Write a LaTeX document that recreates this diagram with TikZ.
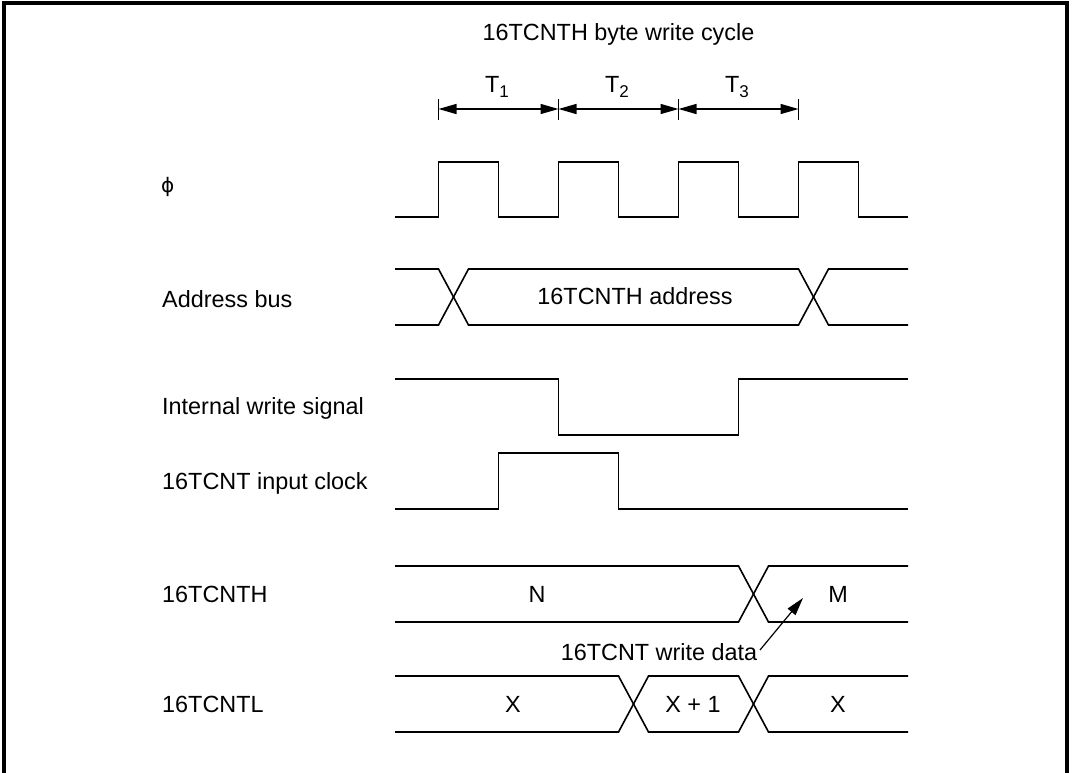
\documentclass[tikz,border=0pt]{standalone}
\usepackage{fontspec}
\setmainfont{Liberation Sans}
\newfontfamily\dejavu{DejaVu Sans}
\usetikzlibrary{arrows.meta}
\begin{document}
\begin{tikzpicture}[x=1pt,y=-1pt,
  sig/.style={line width=1.6pt, line join=miter},
  lbl/.style={anchor=base west, inner sep=0pt, font=\fontsize{23.4}{28}\selectfont},
  txt/.style={anchor=base, inner sep=0pt, font=\fontsize{23.4}{28}\selectfont},
  dimline/.style={line width=1.4pt, {Triangle[length=18pt,width=10pt]}-{Triangle[length=18pt,width=10pt]}},
  tickline/.style={line width=1.4pt},
  frameline/.style={line width=4pt}]
\clip (0,0) rectangle (1073,772);
\fill[white] (0,0) rectangle (1073,772);
\draw[frameline] (4,800) -- (4,3) -- (1067,3) -- (1067,800);

% title
\node[txt] (title) at (618.5,40) {16TCNTH byte write cycle};

% T dimension arrows
\foreach \x [count=\i from 0] in {438.5,558.5,678.5,798.5} {
  \coordinate (t\i) at (\x,109);
  \draw[tickline] (\x,99) -- (\x,120);
}
\draw[dimline] (t0) -- (t1);
\draw[dimline] (t1) -- (t2);
\draw[dimline] (t2) -- (t3);
\node[txt] (T1) at (497,92) {T\raisebox{-5pt}{\fontsize{17}{17}\selectfont 1}};
\node[txt] (T2) at (617,92) {T\raisebox{-5pt}{\fontsize{17}{17}\selectfont 2}};
\node[txt] (T3) at (737,92) {T\raisebox{-5pt}{\fontsize{17}{17}\selectfont 3}};

% row labels
\node[anchor=base west, inner sep=0pt, font=\dejavu\fontsize{20}{24}\selectfont] (phi) at (161,192) {ϕ};
\node[lbl] (laddr) at (162,307) {Address bus};
\node[lbl] (lwr) at (162,414) {Internal write signal};
\node[lbl] (lclk) at (162,489) {16TCNT input clock};
\node[lbl] (lh) at (162,602) {16TCNTH};
\node[lbl] (ll) at (162,712) {16TCNTL};

% phi clock
\draw[sig] (395,217) -| (438.5,162) -| (498.5,217) -| (558.5,162) -| (618.5,217)
  -| (678.5,162) -| (738.5,217) -| (798.5,162) -| (858.5,217) -- (908,217);

% address bus
\draw[sig] (395,269) -- (438.5,269) -- (468.5,325) -- (798.5,325) -- (828.5,269) -- (908,269);
\draw[sig] (395,325) -- (438.5,325) -- (468.5,269) -- (798.5,269) -- (828.5,325) -- (908,325);
\node[txt] (addr) at (635,304) {16TCNTH address};

% internal write signal
\draw[sig] (395,379) -| (558.5,435) -| (738.5,379) -- (908,379);

% 16TCNT input clock
\draw[sig] (395,509) -| (498.5,453) -| (618.5,509) -- (908,509);

% 16TCNTH
\draw[sig] (395,566) -- (738.5,566) -- (768.5,622) -- (908,622);
\draw[sig] (395,622) -- (738.5,622) -- (768.5,566) -- (908,566);
\node[txt] (vN) at (537,602) {N};
\node[txt] (vM) at (838,602) {M};

% write data annotation
\node[txt] (wd) at (659,660) {16TCNT write data};
\coordinate (wdtail) at (760,650);
\coordinate (wdtip) at (803,598);
\draw[line width=1.2pt, -{Triangle[length=18pt,width=10pt]}] (wdtail) -- (wdtip);

% 16TCNTL
\draw[sig] (395,676) -- (618.5,676) -- (648.5,732) -- (738.5,732) -- (768.5,676) -- (908,676);
\draw[sig] (395,732) -- (618.5,732) -- (648.5,676) -- (738.5,676) -- (768.5,732) -- (908,732);
\node[txt] (vX1) at (513,712) {X};
\node[txt] (vX2) at (693,712) {X + 1};
\node[txt] (vX3) at (838,712) {X};
\end{tikzpicture}
\end{document}
